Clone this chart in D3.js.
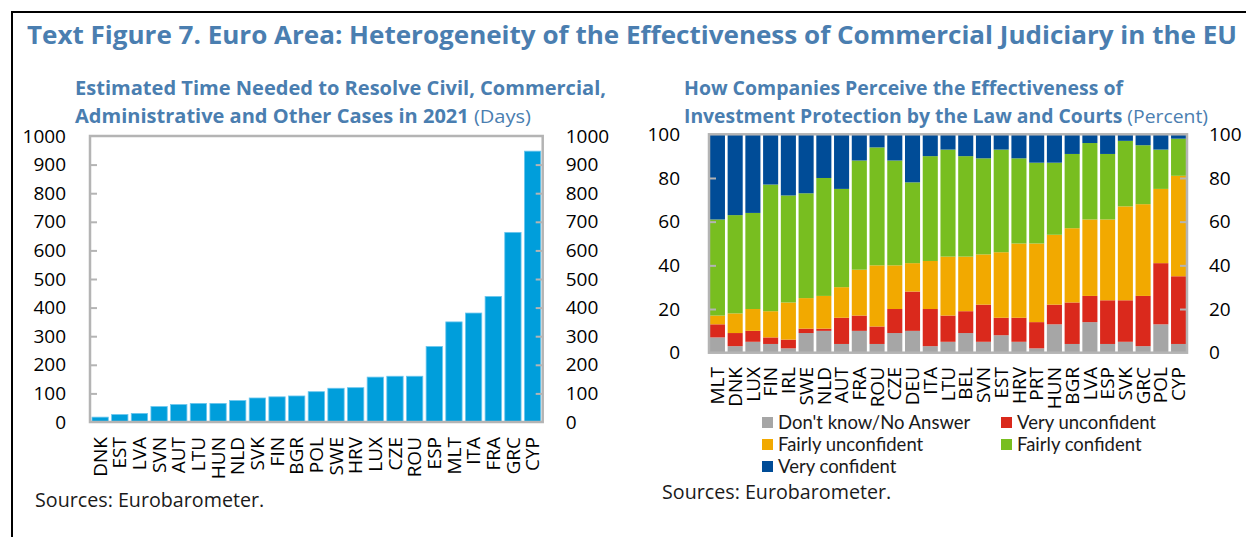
<!DOCTYPE html>
<html><head><meta charset="utf-8">
<script src="https://cdn.jsdelivr.net/npm/d3@7"></script>
<style>
html,body{margin:0;padding:0;background:#fff;}
svg{display:block;font-family:"Open Sans","Noto Sans",sans-serif;}
</style></head>
<body>
<svg id="chart" width="1246" height="537"></svg>
<script>
// ---------- DATA ----------
const leftCategories = ["DNK","EST","LVA","SVN","AUT","LTU","HUN","NLD","SVK","FIN","BGR","POL","SWE","HRV","LUX","CZE","ROU","ESP","MLT","ITA","FRA","GRC","CYP"];
const leftDays = [17,26,30,54,61,65,65,75,84,88,91,106,118,120,157,160,160,264,350,381,439,663,947];
const leftTicks = [0,100,200,300,400,500,600,700,800,900,1000];

const rightCategories = ["MLT","DNK","LUX","FIN","IRL","SWE","NLD","AUT","FRA","ROU","CZE","DEU","ITA","LTU","BEL","SVN","EST","HRV","PRT","HUN","BGR","LVA","ESP","SVK","GRC","POL","CYP"];
const dontKnow        = [7,3,5,4,2,9,10,4,10,4,9,10,3,5,9,5,8,5,2,13,4,14,4,5,3,13,4];
const veryUnconfident = [6,6,5,3,4,2,1,12,7,8,11,18,17,12,10,17,8,11,12,9,19,12,20,19,23,28,31];
const fairlyUnconf    = [4,9,10,12,17,14,15,14,21,28,20,13,22,27,25,23,30,34,36,32,34,35,37,43,42,34,46];
const fairlyConfident = [44,45,44,58,49,48,54,45,50,54,48,37,48,49,46,44,47,39,37,33,34,35,30,30,27,18,17];
const veryConfident   = [39,37,36,23,28,27,20,25,12,6,12,22,10,7,10,11,7,11,13,13,9,4,9,3,5,7,2];
const rightTicks = [0,20,40,60,80,100];
const seriesNames = ["Don't know/No Answer","Very unconfident","Fairly unconfident","Fairly confident","Very confident"];
const seriesColors = ["#a6a6a6","#da291c","#f2a900","#78be20","#004c97"];

const mainTitle = "Text Figure 7. Euro Area: Heterogeneity of the Effectiveness of Commercial Judiciary in the EU";
const leftTitle = ["Estimated Time Needed to Resolve Civil, Commercial,", "Administrative and Other Cases in 2021", " (Days)"];
const rightTitle = ["How Companies Perceive the Effectiveness of", "Investment Protection by the Law and Courts", " (Percent)"];
const sourceText = "Sources: Eurobarometer.";

// ---------- STYLE ----------
const titleColor = "#4a7eb0";
const axisColor = "#b4b4b4";
const barColor = "#009edb";
const fontSize = 19;

const svg = d3.select("#chart");

// outer frame
svg.append("line").attr("x1",12).attr("x2",1246).attr("y1",12).attr("y2",12).attr("stroke","#000").attr("stroke-width",2);
svg.append("line").attr("x1",12).attr("x2",12).attr("y1",11).attr("y2",537).attr("stroke","#000").attr("stroke-width",2);

function fitWidth(t, w){
  const cur = t.node().getComputedTextLength();
  if (cur > 0) t.attr("textLength", w).attr("lengthAdjust","spacingAndGlyphs");
}

// main title
const mt = svg.append("text").attr("x",27).attr("y",44)
  .attr("fill",titleColor).attr("font-size",25).attr("font-weight",700).text(mainTitle);
fitWidth(mt, 1210);

function subTitle(lines, x, w1, w2){
  const t1 = svg.append("text").attr("x",x).attr("y",95).attr("fill",titleColor)
    .attr("font-size",19).attr("font-weight",700).text(lines[0]);
  fitWidth(t1, w1);
  const t2 = svg.append("text").attr("x",x).attr("y",123).attr("fill",titleColor).attr("font-size",19);
  t2.append("tspan").attr("font-weight",700).text(lines[1]);
  t2.append("tspan").attr("font-weight",400).text(lines[2]);
  fitWidth(t2, w2);
}
subTitle(leftTitle, 75, 531, 456);
subTitle(rightTitle, 684, 439, 524);

// ---------- LEFT CHART ----------
const L = {x0:90, x1:542.7, y0:136, y1:422};
const lx = d3.scaleBand().domain(leftCategories).range([L.x0, L.x1]).paddingInner(0.17).paddingOuter(0.1);
const ly = d3.scaleLinear().domain([0,1000]).range([L.y1, L.y0]);

svg.append("g").selectAll("rect").data(leftDays).join("rect")
  .attr("x",(d,i)=>lx(leftCategories[i])).attr("width",lx.bandwidth())
  .attr("y",d=>ly(d)).attr("height",d=>ly(0)-ly(d))
  .attr("fill",barColor).attr("stroke","#6cc6ee").attr("stroke-width",0.8);

function styleAxis(g){
  g.select(".domain").remove();
  g.selectAll(".tick line").attr("stroke",axisColor).attr("stroke-width",2);
  g.selectAll(".tick text").attr("font-size",fontSize).attr("fill","#000").attr("font-family","'Open Sans','Noto Sans',sans-serif");
}
svg.append("g").attr("transform",`translate(${L.x0},0)`)
  .call(d3.axisLeft(ly).tickValues(leftTicks.slice(1,-1)).tickSize(-7).tickPadding(24).tickFormat(d3.format("d"))).call(styleAxis);
svg.append("g").attr("transform",`translate(${L.x1},0)`)
  .call(d3.axisRight(ly).tickValues(leftTicks.slice(1,-1)).tickSize(-7).tickPadding(23).tickFormat(d3.format("d"))).call(styleAxis);
// end labels (0 and 1000) without tick marks
svg.append("g").attr("transform",`translate(${L.x0},0)`)
  .call(d3.axisLeft(ly).tickValues([0,1000]).tickSize(0).tickPadding(24).tickFormat(d3.format("d"))).call(styleAxis);
svg.append("g").attr("transform",`translate(${L.x1},0)`)
  .call(d3.axisRight(ly).tickValues([0,1000]).tickSize(0).tickPadding(23).tickFormat(d3.format("d"))).call(styleAxis);

svg.append("rect").attr("x",L.x0).attr("y",L.y0).attr("width",L.x1-L.x0).attr("height",L.y1-L.y0)
  .attr("fill","none").attr("stroke",axisColor).attr("stroke-width",2.5);

svg.append("g").selectAll("text").data(leftCategories).join("text")
  .attr("transform",d=>`translate(${lx(d)+lx.bandwidth()/2},437) rotate(-90)`)
  .attr("text-anchor","end").attr("dy","0.35em").attr("font-size",fontSize).attr("fill","#000").text(d=>d);

svg.append("text").attr("x",35).attr("y",507).attr("font-size",19.7).attr("fill","#1a1a1a").text(sourceText);

// ---------- RIGHT CHART ----------
const R = {x0:709, x1:1187, y0:134.3, y1:352.7};
const rx = d3.scaleBand().domain(rightCategories).range([R.x0, R.x1]).paddingInner(0.15).paddingOuter(0.05);
const ry = d3.scaleLinear().domain([0,100]).range([R.y1, R.y0]);

const table = rightCategories.map((c,i)=>({cat:c, s0:dontKnow[i], s1:veryUnconfident[i], s2:fairlyUnconf[i], s3:fairlyConfident[i], s4:veryConfident[i]}));
const stack = d3.stack().keys(["s0","s1","s2","s3","s4"])(table);

svg.append("g").selectAll("g").data(stack).join("g")
  .attr("fill",(d,i)=>seriesColors[i])
  .selectAll("rect").data(d=>d).join("rect")
  .attr("x",d=>rx(d.data.cat)).attr("width",rx.bandwidth())
  .attr("y",d=>ry(d[1])).attr("height",d=>ry(d[0])-ry(d[1]));

svg.append("g").attr("transform",`translate(${R.x0},0)`)
  .call(d3.axisLeft(ry).tickValues(rightTicks.slice(1,-1)).tickSize(-7).tickPadding(29)).call(styleAxis);
svg.append("g").attr("transform",`translate(${R.x1},0)`)
  .call(d3.axisRight(ry).tickValues(rightTicks.slice(1,-1)).tickSize(-7).tickPadding(22)).call(styleAxis);
svg.append("g").attr("transform",`translate(${R.x0},0)`)
  .call(d3.axisLeft(ry).tickValues([0,100]).tickSize(0).tickPadding(29)).call(styleAxis);
svg.append("g").attr("transform",`translate(${R.x1},0)`)
  .call(d3.axisRight(ry).tickValues([0,100]).tickSize(0).tickPadding(22)).call(styleAxis);

svg.append("rect").attr("x",R.x0).attr("y",R.y0).attr("width",R.x1-R.x0).attr("height",R.y1-R.y0)
  .attr("fill","none").attr("stroke",axisColor).attr("stroke-width",2.5);

svg.append("g").selectAll("text").data(rightCategories).join("text")
  .attr("transform",d=>`translate(${rx(d)+rx.bandwidth()/2},367) rotate(-90)`)
  .attr("text-anchor","end").attr("dy","0.35em").attr("font-size",fontSize).attr("fill","#000").text(d=>d);

// legend
const legendPos = [[762,423],[1001,423],[762,445],[1001,445],[762,467]];
const lg = svg.append("g").selectAll("g").data(seriesNames).join("g")
  .attr("transform",(d,i)=>`translate(${legendPos[i][0]},${legendPos[i][1]})`);
lg.append("rect").attr("x",0).attr("y",-6).attr("width",11).attr("height",11).attr("fill",(d,i)=>seriesColors[i]);
lg.append("text").attr("x",16).attr("dy","0.35em").attr("font-size",18.5)
  .attr("font-family","Lato,'Open Sans',sans-serif").attr("fill","#1a1a1a").text(d=>d);

svg.append("text").attr("x",662).attr("y",499).attr("font-size",19.7).attr("fill","#1a1a1a").text(sourceText);
</script>
</body></html>
